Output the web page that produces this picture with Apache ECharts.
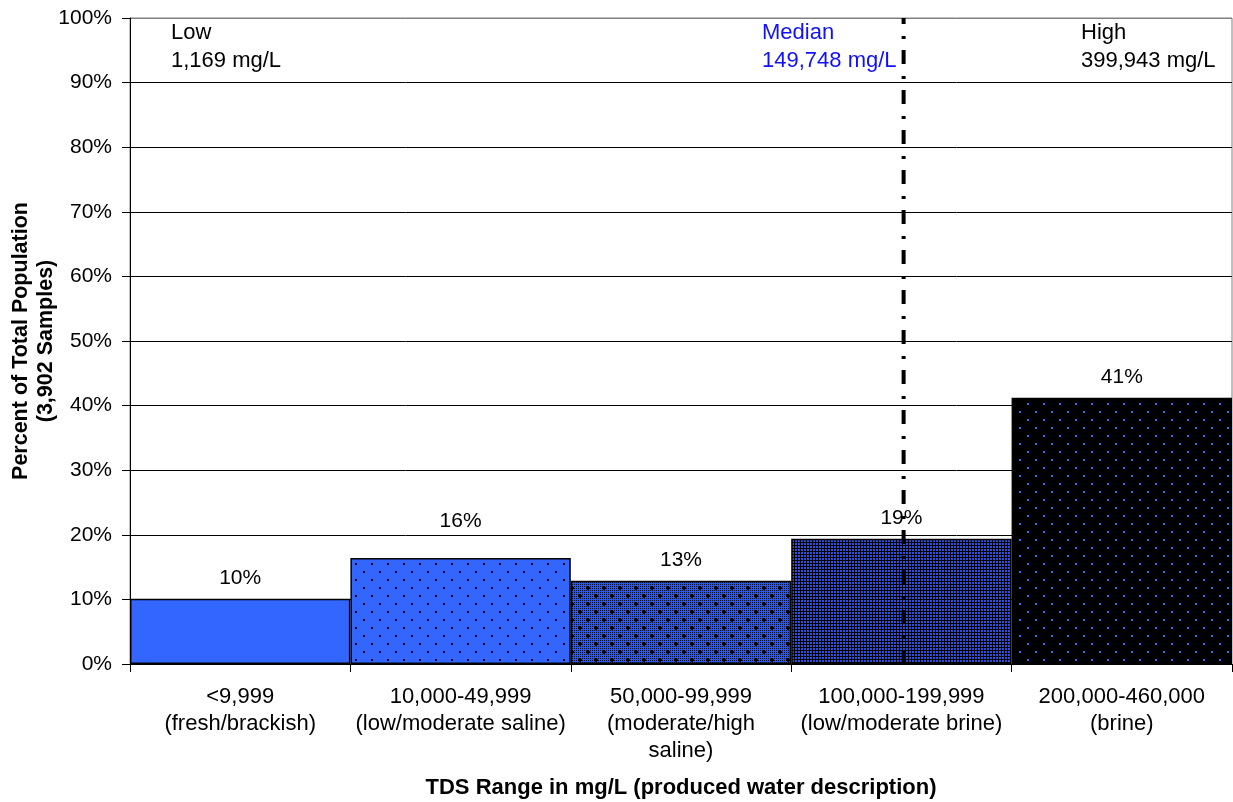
<!DOCTYPE html>
<html>
<head>
<meta charset="utf-8">
<script src="https://cdn.jsdelivr.net/npm/echarts@6/dist/echarts.min.js"></script>
<style>
  html, body { margin: 0; padding: 0; background: #fff; }
  #chart { width: 1233px; height: 802px; }
</style>
</head>
<body>
<div id="chart"></div>
<script>
// TDS ranges (category labels) and share of the 3,902 samples in each range
const categories = [
  '<9,999\n(fresh/brackish)',
  '10,000-49,999\n(low/moderate saline)',
  '50,000-99,999\n(moderate/high\nsaline)',
  '100,000-199,999\n(low/moderate brine)',
  '200,000-460,000\n(brine)'
];
const percents = [10.1, 16.4, 12.9, 19.4, 41.2];

// Percent axis
const yMin = 0;
const yMax = 100;
const yStep = 10;

// Summary statistics written across the top of the plot
const statNames = ['Low', 'Median', 'High'];
const statValues = ['1,169 mg/L', '149,748 mg/L', '399,943 mg/L'];

// Median drawn as a vertical line, position in category units (0..5)
const medianPosition = 3.51;

const FONT = '"Liberation Sans", Arial, sans-serif';
const BLUE = '#3366FF';

function makeCanvas(w, h, draw) {
  const c = document.createElement('canvas');
  c.width = w; c.height = h;
  draw(c.getContext('2d'), w, h);
  return { image: c, repeat: 'repeat' };
}

// Fill patterns for the five bars, light to dark
const fills = [
  BLUE,
  makeCanvas(16, 16, (g) => {
    g.fillStyle = BLUE; g.fillRect(0, 0, 16, 16);
    g.fillStyle = '#000022';
    g.fillRect(3, 3, 2, 2); g.fillRect(11, 11, 2, 2);
  }),
  makeCanvas(16, 16, (g) => {
    g.fillStyle = '#2c58e4'; g.fillRect(0, 0, 16, 16);
    g.fillStyle = '#081040';
    for (let y = 0; y < 16; y++) {
      for (let x = 0; x < 16; x++) {
        if ((x + y) % 2 === 0 && x % 2 === 0) g.fillRect(x, y, 1, 1);
      }
    }
    g.fillStyle = '#000000';
    [[4, 4], [12, 12]].forEach(([cx, cy]) => {
      g.fillRect(cx - 1, cy - 2, 2, 4);
      g.fillRect(cx - 2, cy - 1, 4, 2);
    });
  }),
  makeCanvas(3, 3, (g) => {
    g.fillStyle = '#000000'; g.fillRect(0, 0, 3, 3);
    g.fillStyle = '#2a52dc'; g.fillRect(0, 0, 2, 2);
  }),
  makeCanvas(16, 16, (g) => {
    g.fillStyle = '#000000'; g.fillRect(0, 0, 16, 16);
    g.fillStyle = '#3a6cff';
    g.fillRect(3, 3, 2, 2); g.fillRect(11, 11, 2, 2);
  })
];

// The second bar's value label sits a little higher than the others
const labelOffsets = [[0, 0], [0, -16], [0, 0], [0, 0], [0, 0]];

const chart = echarts.init(document.getElementById('chart'), null, { renderer: 'canvas' });

const gridLineColors = [];
for (let v = yMin; v <= yMax; v += yStep) {
  gridLineColors.push(v === yMax ? '#808080' : '#000000');
}

const statLefts = [171, 762, 1081];
const statColors = ['#000000', '#1010FF', '#000000'];

chart.setOption({
  animation: false,
  backgroundColor: '#ffffff',
  textStyle: { fontFamily: FONT },
  grid: {
    left: 130, right: 1, top: 18, bottom: 138,
    outerBoundsMode: 'none',
    containLabel: false,
    show: true, borderColor: '#808080', borderWidth: 1
  },
  xAxis: [
    {
      type: 'category',
      data: categories,
      boundaryGap: true,
      name: 'TDS Range in mg/L (produced water description)',
      nameLocation: 'middle',
      nameGap: 113,
      nameMoveOverlap: false,
      nameTextStyle: { fontFamily: FONT, fontSize: 22, fontWeight: 'bold', color: '#000' },
      axisLine: { lineStyle: { color: '#000', width: 1 } },
      axisTick: { show: true, length: 8, lineStyle: { color: '#000' } },
      axisLabel: {
        interval: 0, margin: 19, fontFamily: FONT, fontSize: 22,
        lineHeight: 27, color: '#000', align: 'center'
      },
      splitLine: { show: false }
    },
    {
      type: 'value', min: 0, max: categories.length, show: false
    }
  ],
  yAxis: {
    type: 'value',
    min: yMin, max: yMax, interval: yStep,
    name: 'Percent of Total Population\n(3,902 Samples)',
    nameLocation: 'middle',
    nameGap: 71,
    nameMoveOverlap: false,
    nameRotate: 90,
    nameTextStyle: { fontFamily: FONT, fontSize: 21.5, fontWeight: 'bold', color: '#000', lineHeight: 25 },
    axisLine: { show: true, lineStyle: { color: '#000', width: 1 } },
    axisTick: { show: true, length: 8, lineStyle: { color: '#000' } },
    axisLabel: {
      formatter: (v) => v + '%', margin: 18, fontFamily: FONT, fontSize: 21, color: '#000'
    },
    splitLine: { show: true, lineStyle: { color: gridLineColors, width: 1 } }
  },
  series: [
    {
      type: 'bar',
      xAxisIndex: 0,
      data: percents.map((v, i) => ({
        value: v,
        itemStyle: { color: fills[i] },
        label: { offset: labelOffsets[i] }
      })),
      barWidth: '100%',
      barCategoryGap: '0%',
      itemStyle: { borderColor: '#000', borderWidth: 1.5 },
      label: {
        show: true, position: 'top', distance: 10,
        formatter: (p) => Math.round(p.value) + '%',
        fontFamily: FONT, fontSize: 21, color: '#000'
      },
      z: 2
    },
    {
      type: 'line',
      xAxisIndex: 1,
      data: [[medianPosition, yMin], [medianPosition, yMax]],
      symbol: 'none',
      lineStyle: { color: '#000', width: 4, type: [14, 11, 3, 12] },
      z: 5
    }
  ],
  graphic: statNames.map((name, i) => ({
    type: 'text',
    left: statLefts[i],
    top: 19,
    z: 10,
    style: {
      text: name + '\n' + statValues[i],
      font: '22px ' + FONT,
      lineHeight: 28,
      fill: statColors[i]
    }
  }))
});
</script>
</body>
</html>
